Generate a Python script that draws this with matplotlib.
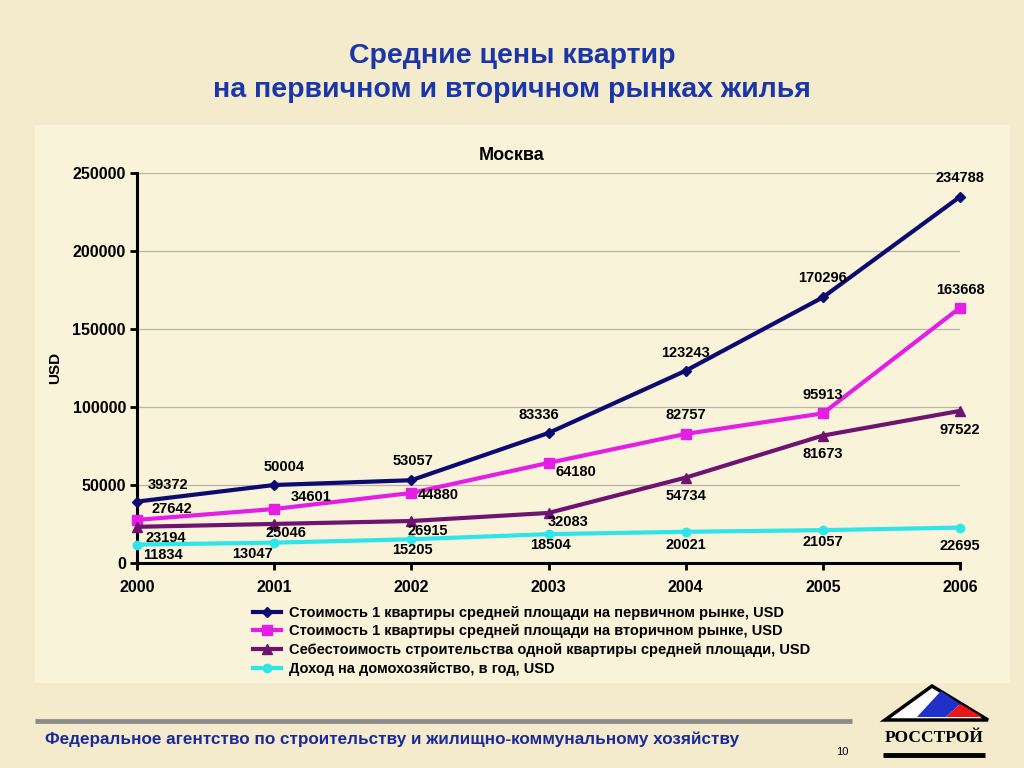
import matplotlib
matplotlib.use("Agg")
import matplotlib.pyplot as plt
from matplotlib.patches import Polygon, Rectangle

# ---- data ----
years = [2000, 2001, 2002, 2003, 2004, 2005, 2006]
primary = [39372, 50004, 53057, 83336, 123243, 170296, 234788]
secondary = [27642, 34601, 44880, 64180, 82757, 95913, 163668]
cost = [23194, 25046, 26915, 32083, 54734, 81673, 97522]
income = [11834, 13047, 15205, 18504, 20021, 21057, 22695]
series_names = [
    "Стоимость 1 квартиры средней площади на первичном рынке, USD",
    "Стоимость 1 квартиры средней площади на вторичном рынке, USD",
    "Себестоимость строительства одной квартиры средней площади, USD",
    "Доход на домохозяйство, в год, USD",
]
yticks = [0, 50000, 100000, 150000, 200000, 250000]

# ---- label offsets (pixels) ----
off_primary = [(31, 17), (10, 18), (2, 19), (-10, 18), (0, 18), (0, 19), (0, 19)]
off_secondary = [(35, 11), (37, 12), (27, -2), (27, -9), (0, 19), (0, 18), (0, 18)]
off_cost = [(29, -11), (12, -9), (16, -10), (20, -9), (0, -18), (0, -18), (0, -19)]
off_income = [(26, -10), (-22, -11), (1, -11), (2, -11), (0, -13), (0, -12), (0, -18)]

W, H = 1024, 768
fig = plt.figure(figsize=(W / 100, H / 100), dpi=100)
fig.patch.set_facecolor("#F3EBCC")

SANS = "Liberation Sans"

# background overlay in pixel coordinates
bg = fig.add_axes([0, 0, 1, 1], zorder=0)
bg.set_xlim(0, W)
bg.set_ylim(H, 0)
bg.axis("off")
bg.add_patch(Rectangle((35, 125), 975, 558, facecolor="#F9F3DA", edgecolor="none"))

# titles
bg.text(512, 56, "Средние цены квартир", ha="center", va="center",
        fontsize=20.5, fontweight="bold", color="#1A36A8", family=SANS)
bg.text(512, 90, "на первичном и вторичном рынках жилья", ha="center", va="center",
        fontsize=20.5, fontweight="bold", color="#1A36A8", family=SANS)
bg.text(512, 155, "Москва", ha="center", va="center", fontsize=13,
        fontweight="bold", color="black", family=SANS)
bg.text(55, 368, "USD", ha="center", va="center", rotation=90, fontsize=11,
        fontweight="bold", color="black", family=SANS)

# footer
bg.plot([35, 852], [721, 721], color="#8C8C8C", lw=3.5, solid_capstyle="butt")
bg.text(45, 739, "Федеральное агентство по строительству и жилищно-коммунальному хозяйству",
        ha="left", va="center", fontsize=12.3, fontweight="bold", color="#1A2A9A", family=SANS)
bg.text(842, 752, "10", ha="center", va="center", fontsize=8, color="black", family=SANS)

# logo
bg.add_patch(Polygon([(885, 720), (932, 686), (988, 720)], closed=True,
                     facecolor="white", edgecolor="black", lw=2.5, zorder=3, joinstyle="miter"))
bg.add_patch(Polygon([(917, 717), (941, 691), (960, 704), (946, 717)], closed=True,
                     facecolor="#2030C8", edgecolor="none", zorder=4))
bg.add_patch(Polygon([(946, 717), (960, 704), (964, 706), (982, 717)], closed=True,
                     facecolor="#E81818", edgecolor="none", zorder=4))
bg.text(934, 738, "РОССТРОЙ", ha="center", va="center", fontsize=12.5,
        fontweight="bold", color="black", family="Liberation Serif")
bg.plot([883, 985], [755, 755], color="black", lw=3.5, solid_capstyle="butt")

# main chart
ax = fig.add_axes([137 / W, 1 - 563 / H, (960 - 137) / W, 390 / H], zorder=2)
ax.patch.set_alpha(0)
ax.set_xlim(2000, 2006)
ax.set_ylim(0, 250000)
ax.set_yticks(yticks)
ax.set_xticks(years)
ax.yaxis.grid(True, color="#B8B4A4", lw=0.9)
ax.set_axisbelow(True)
for s in ["top", "right"]:
    ax.spines[s].set_visible(False)
for s in ["left", "bottom"]:
    ax.spines[s].set_linewidth(2.2)
    ax.spines[s].set_color("black")
ax.tick_params(axis="both", length=5, width=2, labelsize=11.5, direction="out")
ax.tick_params(axis="x", pad=7)
ax.tick_params(axis="y", pad=3)
for lab in ax.get_xticklabels() + ax.get_yticklabels():
    lab.set_fontweight("bold")
    lab.set_family(SANS)
ax.yaxis.set_major_formatter(matplotlib.ticker.FuncFormatter(lambda v, p: f"{int(v)}"))

styles = [
    (primary, "#0B0B72", "D", 5, off_primary),
    (secondary, "#E51EE5", "s", 6.5, off_secondary),
    (cost, "#6E1470", "^", 7, off_cost),
    (income, "#2EE6EA", "o", 6, off_income),
]
handles = []
for (vals, col, mk, ms, offs), name in zip(styles, series_names):
    ln, = ax.plot(years, vals, color=col, lw=3, marker=mk, markersize=ms,
                  markerfacecolor=col, markeredgecolor=col, clip_on=False, zorder=3)
    handles.append(ln)
    for x, v, (dx, dy) in zip(years, vals, offs):
        ax.annotate(f"{v}", (x, v), xytext=(dx, dy), textcoords="offset pixels",
                    ha="center", va="center", fontsize=10.5, fontweight="bold",
                    family=SANS, color="black", zorder=5)

leg = fig.legend(handles, series_names, loc="upper left",
                 bbox_to_anchor=(247 / W, 1 - 600 / H), frameon=False,
                 prop={"family": SANS, "weight": "bold", "size": 10.5},
                 handlelength=1.9, labelspacing=0.32, handletextpad=0.55, borderaxespad=0)

fig.savefig("out.png", dpi=100, facecolor=fig.get_facecolor())
